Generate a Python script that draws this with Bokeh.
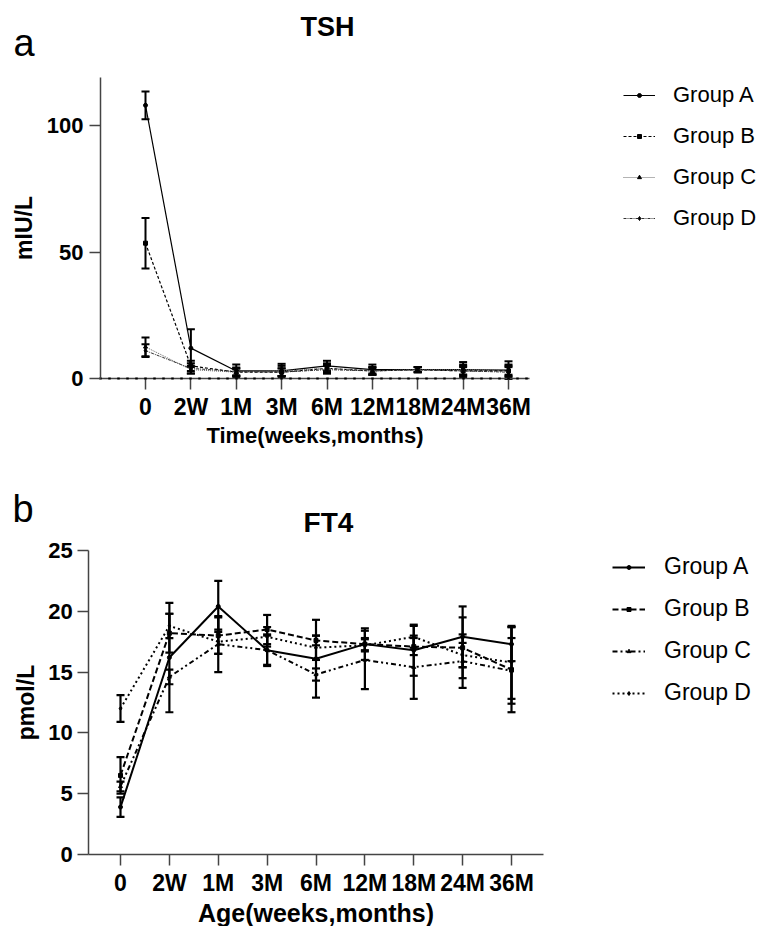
from bokeh.plotting import figure
from bokeh.models import (ColumnDataSource, Whisker, TeeHead, FixedTicker, Legend,
                          LegendItem, Range1d, Label)
from bokeh.layouts import column
from bokeh.embed import file_html
from bokeh.resources import INLINE

time_labels = ["0", "2W", "1M", "3M", "6M", "12M", "18M", "24M", "36M"]
groups = ["Group A", "Group B", "Group C", "Group D"]

# TSH (mIU/L)
tsh_a = [108, 12, 3, 3, 5, 3.5, 3.5, 3.5, 3.3]
tsh_a_err = [5.5, 7.5, 2.5, 2.8, 2, 2, 1, 3, 3.5]
tsh_b = [53.5, 5, 2.5, 2.5, 4, 3, 3.5, 3, 3]
tsh_b_err = [10, 2, 1.5, 1.5, 2, 1.5, 1, 2, 2]
tsh_c = [12.5, 3.5, 2.5, 3, 4, 3, 3.5, 3.5, 3.5]
tsh_c_err = [3.7, 1.5, 1.5, 2, 1.5, 1.5, 1, 2, 2]
tsh_d = [11, 4, 2.8, 2.5, 3.5, 3, 3.5, 3, 2.5]
tsh_d_err = [2.5, 2, 1.5, 1.5, 1.5, 1, 1, 1.5, 2]

# FT4 (pmol/L)
ft4_a = [3.9, 16.2, 20.4, 16.8, 16.1, 17.3, 16.8, 17.9, 17.3]
ft4_a_err = [0.8, 4.5, 2.1, 1.3, 3.2, 1.3, 2.1, 2.5, 1.4]
ft4_b = [6.5, 18.2, 18.0, 18.5, 17.6, 17.3, 17.1, 17.0, 15.2]
ft4_b_err = [1.5, 1.6, 1.5, 1.2, 0.4, 0.5, 0.7, 2.5, 3.5]
ft4_c = [5.6, 14.6, 17.3, 16.8, 14.8, 16.0, 15.4, 15.9, 15.1]
ft4_c_err = [0.4, 0.6, 2.3, 1.2, 0.5, 2.4, 2.6, 2.2, 2.7]
ft4_d = [12.0, 18.8, 17.5, 17.9, 17.0, 17.2, 17.9, 16.4, 15.8]
ft4_d_err = [1.1, 1.0, 1.0, 0.8, 1.0, 0.5, 0.9, 1.0, 3.0]

FONT = "Liberation Sans"
AXIS_COLOR = "#444444"
W = 764
H1 = 465
H2 = 461


def style_axes(p, xtick_size, ytick_size, label_size):
    for ax in (p.xaxis, p.yaxis):
        ax.axis_line_color = AXIS_COLOR
        ax.axis_line_width = 1.5
        ax.major_tick_line_color = AXIS_COLOR
        ax.major_tick_line_width = 1.5
        ax.major_tick_in = 0
        ax.major_tick_out = 11
        ax.minor_tick_line_color = None
        ax.major_label_text_font = FONT
        ax.major_label_text_font_style = "bold"
        ax.major_label_text_color = "black"
        ax.axis_label_text_font = FONT
        ax.axis_label_text_font_style = "bold"
        ax.axis_label_text_font_size = label_size
        ax.axis_label_text_color = "black"
    p.xaxis.major_label_text_font_size = xtick_size
    p.yaxis.major_label_text_font_size = ytick_size
    p.xgrid.grid_line_color = None
    p.ygrid.grid_line_color = None
    p.outline_line_color = None


def add_series(p, vals, errs, dash, color, lw, marker, msize, ebw):
    x = list(range(len(time_labels)))
    src = ColumnDataSource(dict(
        x=x, y=vals,
        upper=[v + e for v, e in zip(vals, errs)],
        lower=[v - e for v, e in zip(vals, errs)],
    ))
    w = Whisker(source=src, base="x", upper="upper", lower="lower",
                line_color="black", line_width=ebw,
                upper_head=TeeHead(size=8, line_width=ebw, line_color="black"),
                lower_head=TeeHead(size=8, line_width=ebw, line_color="black"))
    p.add_layout(w)
    lr = p.line("x", "y", source=src, line_color=color, line_width=lw, line_dash=dash)
    sr = p.scatter("x", "y", source=src, marker=marker, size=msize,
                   fill_color="black", line_color="black")
    return lr, sr


def text_label(x, y, text, size, bold, align):
    return Label(x=x, y=y, x_units="screen", y_units="screen", text=text,
                 text_align=align, text_baseline="alphabetic", text_font=FONT,
                 text_font_size=size, text_font_style="bold" if bold else "normal",
                 text_color="black")


# ---------------- TSH ----------------
# pixel geometry of the plotting area (canvas coordinates)
t_x0, t_x8, t_ytop, t_y0 = 145, 508, 77, 378
t_pxx = (t_x8 - t_x0) / 8
t_pxy = (t_y0 - t_ytop) / 119
p1 = figure(width=W, height=H1, output_backend="svg", toolbar_location=None,
            title_location=None, min_border=0,
            x_range=Range1d(-t_x0 / t_pxx, (W - t_x0) / t_pxx),
            y_range=Range1d(-(H1 - t_y0) / t_pxy, t_y0 / t_pxy))
style_axes(p1, "23px", "22px", "22px")
p1.xaxis.fixed_location = 0
p1.xaxis.bounds = (-0.99, 8.47)
p1.yaxis.fixed_location = -0.99
p1.yaxis.bounds = (0, 119)
p1.xaxis.ticker = FixedTicker(ticks=list(range(len(time_labels))),
                              minor_ticks=[round(-1 + 0.2 * i, 2) for i in range(48)])
p1.xaxis.major_label_overrides = {i: t for i, t in enumerate(time_labels)}
p1.xaxis.minor_tick_line_color = "black"
p1.xaxis.minor_tick_line_width = 2.5
p1.xaxis.minor_tick_in = 1
p1.xaxis.minor_tick_out = 1
p1.yaxis.ticker = FixedTicker(ticks=[0, 50, 100])
p1.xaxis.axis_label = "Time(weeks,months)"
p1.yaxis.axis_label = "mIU/L"
p1.yaxis.axis_label_text_font_size = "23px"
p1.xaxis.major_label_standoff = 4
p1.yaxis.major_label_standoff = 6
p1.xaxis.axis_label_standoff = 0
p1.yaxis.axis_label_standoff = 7

tsh_specs = [
    (tsh_a, tsh_a_err, "solid", "black", 1.2, "circle", 4),
    (tsh_b, tsh_b_err, "3 2", "black", 1.2, "square", 4),
    (tsh_c, tsh_c_err, "1 1", "#666666", 1.0, "triangle", 4),
    (tsh_d, tsh_d_err, "3 1 1 1", "#333333", 1.0, "diamond", 4),
]
items1 = []
for g, (v, e, d, c, lw, m, ms) in zip(groups, tsh_specs):
    lr, sr = add_series(p1, v, e, d, c, lw, m, ms, 2)
    items1.append(LegendItem(label=g, renderers=[lr, sr]))

leg1 = Legend(items=items1, location=(623, H1 - 231), padding=0, margin=0,
              border_line_color=None, background_fill_alpha=0,
              glyph_width=32, glyph_height=10, label_height=26, label_standoff=18,
              spacing=15, label_text_font=FONT, label_text_font_size="22px",
              label_text_color="black")
p1.add_layout(leg1)
p1.add_layout(text_label(327, H1 - 26, "TSH", "27px", True, "center"))
p1.add_layout(text_label(13, H1 - 42, "a", "38px", False, "left"))

# ---------------- FT4 ----------------
f_x0, f_x8, f_ytop, f_y0 = 120, 511, 550 - H1, 854 - H1
f_pxx = (f_x8 - f_x0) / 8
f_pxy = (f_y0 - f_ytop) / 25
p2 = figure(width=W, height=H2, output_backend="svg", toolbar_location=None,
            title_location=None, min_border=0,
            x_range=Range1d(-f_x0 / f_pxx, (W - f_x0) / f_pxx),
            y_range=Range1d(-(H2 - f_y0) / f_pxy, f_y0 / f_pxy))
style_axes(p2, "23px", "22px", "25px")
p2.xaxis.fixed_location = 0
p2.xaxis.bounds = (-0.65, 8.65)
p2.yaxis.fixed_location = -0.65
p2.yaxis.bounds = (0, 25)
p2.xaxis.ticker = FixedTicker(ticks=list(range(len(time_labels))))
p2.xaxis.major_label_overrides = {i: t for i, t in enumerate(time_labels)}
p2.yaxis.ticker = FixedTicker(ticks=[0, 5, 10, 15, 20, 25])
p2.xaxis.axis_label = "Age(weeks,months)"
p2.yaxis.axis_label = "pmol/L"
p2.yaxis.axis_label_text_font_size = "23px"
p2.xaxis.major_label_standoff = 4
p2.yaxis.major_label_standoff = 5
p2.xaxis.axis_label_standoff = 0
p2.yaxis.axis_label_standoff = 6

ft4_specs = [
    (ft4_a, ft4_a_err, "solid", "black", 2.0, "circle", 4),
    (ft4_b, ft4_b_err, "6 3", "black", 2.0, "square", 4),
    (ft4_c, ft4_c_err, "5 3 2 3 2 3", "black", 2.0, "triangle", 4),
    (ft4_d, ft4_d_err, "2 3", "black", 2.0, "diamond", 4),
]
items2 = []
for g, (v, e, d, c, lw, m, ms) in zip(groups, ft4_specs):
    lr, sr = add_series(p2, v, e, d, c, lw, m, ms, 2.2)
    items2.append(LegendItem(label=g, renderers=[lr, sr]))

leg2 = Legend(items=items2, location=(612, H2 - 241), padding=0, margin=0,
              border_line_color=None, background_fill_alpha=0,
              glyph_width=33, glyph_height=10, label_height=26, label_standoff=19,
              spacing=15, label_text_font=FONT, label_text_font_size="23px",
              label_text_color="black")
p2.add_layout(leg2)
p2.add_layout(text_label(328, H2 - 57, "FT4", "28px", True, "center"))
p2.add_layout(text_label(12, H2 - 43, "b", "38px", False, "left"))

layout = column(p1, p2, spacing=0)
open("out.html", "w").write(file_html(layout, INLINE))
